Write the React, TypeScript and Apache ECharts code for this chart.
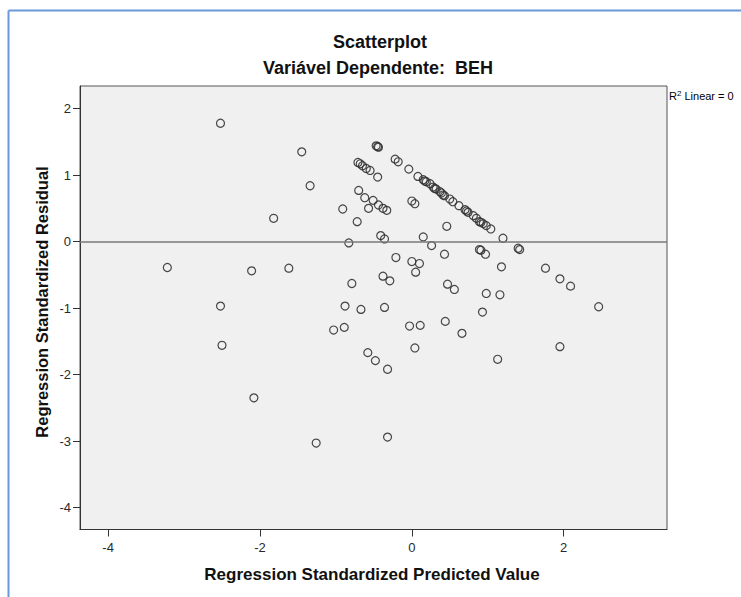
import React, { useEffect, useRef } from "react";
import * as echarts from "echarts";

const predicted: number[] = [
  -2.52, -1.45, -0.47, -0.45, -0.44, -0.71, -0.68, -0.65, -0.6, -0.55,
  -0.45, -1.34, -0.7, -0.62, -0.51, -0.44, -0.38, -0.33, -0.57, -0.91,
  -0.72, -1.82, -0.41, -0.36, -0.83, -0.21, -0.22, -0.18, -0.04, 0.08,
  0.15, 0.17, 0.19, 0.24, 0.28, 0.3, 0.32, 0.37, 0.39, 0.41,
  0.43, 0.5, 0.54, 0.62, 0.7, 0.72, 0.74, 0.81, 0.85, 0.89,
  0.91, 0.94, 0.98, 1.04, 1.2, 1.4, 1.42, 0.0, 0.04, 0.46,
  0.15, 0.26, 0.43, 0.89, 0.91, 0.97, 0.0, 0.1, 0.05, -0.38,
  -0.29, 1.18, 1.76, 1.95, 2.09, 0.47, 0.56, 0.98, 1.16, -0.36,
  2.46, 0.93, -0.03, 0.11, 0.44, 0.66, 0.04, 1.95, 1.13, -0.32,
  -0.32, -3.22, -2.11, -1.62, -0.79, -2.52, -0.88, -0.67, -1.03, -0.89,
  -2.5, -0.58, -0.48, -2.08, -1.26,
];

const residual: number[] = [
  1.78, 1.35, 1.44, 1.43, 1.42, 1.19, 1.17, 1.14, 1.1, 1.07,
  0.97, 0.84, 0.77, 0.66, 0.62, 0.55, 0.5, 0.47, 0.5, 0.49,
  0.3, 0.35, 0.09, 0.04, -0.02, -0.24, 1.24, 1.2, 1.09, 0.98,
  0.93, 0.91, 0.9, 0.87, 0.82, 0.8, 0.79, 0.75, 0.73, 0.7,
  0.69, 0.64, 0.6, 0.54, 0.48, 0.46, 0.44, 0.39, 0.35, 0.3,
  0.29, 0.27, 0.24, 0.19, 0.05, -0.1, -0.12, 0.61, 0.57, 0.23,
  0.07, -0.06, -0.19, -0.12, -0.13, -0.19, -0.3, -0.33, -0.46, -0.52,
  -0.59, -0.38, -0.4, -0.56, -0.67, -0.64, -0.72, -0.78, -0.8, -0.99,
  -0.98, -1.06, -1.27, -1.26, -1.2, -1.38, -1.6, -1.58, -1.77, -1.92,
  -2.94, -0.39, -0.44, -0.4, -0.63, -0.97, -0.97, -1.02, -1.33, -1.29,
  -1.56, -1.67, -1.79, -2.35, -3.03,
];

const xTicks: number[] = [-4, -2, 0, 2];
const yTicks: number[] = [-4, -3, -2, -1, 0, 1, 2];

const titleText = "Scatterplot";
const subtitleText = "Variável Dependente:  BEH";
const xAxisTitle = "Regression Standardized Predicted Value";
const yAxisTitle = "Regression Standardized Residual";
const r2Text = " Linear = 0";

const FONT = "'Liberation Sans', Arial, sans-serif";

export default function App() {
  const ref = useRef<HTMLDivElement>(null);

  useEffect(() => {
    if (!ref.current) return;
    const chart = echarts.init(ref.current, null, { renderer: "svg" });
    const points = predicted.map((p, i) => [p, residual[i]]);

    chart.setOption({
      animation: false,
      backgroundColor: "#ffffff",
      textStyle: { fontFamily: FONT },
      grid: {
        left: 80,
        right: 74,
        top: 86,
        bottom: 67.5,
        show: true,
        backgroundColor: "#f0f0f0",
        borderColor: "#555555",
        borderWidth: 1,
      },
      xAxis: {
        type: "value",
        min: -4.37,
        max: 3.36,
        splitLine: { show: false },
        axisLine: { show: true, onZero: false, lineStyle: { color: "#333333", width: 1 } },
        axisTick: {
          show: true,
          length: 7,
          customValues: xTicks,
          lineStyle: { color: "#333333" },
        },
        axisLabel: {
          customValues: xTicks,
          color: "#2a2a2a",
          fontSize: 13,
          margin: 11,
          fontFamily: FONT,
        },
      },
      yAxis: {
        type: "value",
        min: -4.33,
        max: 2.34,
        splitLine: { show: false },
        axisLine: { show: true, onZero: false, lineStyle: { color: "#333333", width: 1 } },
        axisTick: {
          show: true,
          length: 7,
          customValues: yTicks,
          lineStyle: { color: "#333333" },
        },
        axisLabel: {
          customValues: yTicks,
          color: "#2a2a2a",
          fontSize: 13,
          margin: 9,
          fontFamily: FONT,
        },
      },
      series: [
        {
          type: "scatter",
          data: points,
          symbol: "circle",
          symbolSize: 8,
          itemStyle: {
            color: "rgba(0,0,0,0)",
            borderColor: "#333333",
            borderWidth: 1.2,
            opacity: 0.9,
          },
          markLine: {
            silent: true,
            symbol: ["none", "none"],
            label: { show: false },
            lineStyle: { color: "#7a7a7a", width: 1.5, type: "solid" },
            data: [{ yAxis: 0 }],
          },
        },
      ],
      graphic: [
        {
          type: "line",
          shape: { x1: 8.5, y1: 10.5, x2: 741, y2: 10.5 },
          style: { stroke: "#6a99d9", lineWidth: 2 },
        },
        {
          type: "line",
          shape: { x1: 8.5, y1: 10.5, x2: 8.5, y2: 597 },
          style: { stroke: "#6a99d9", lineWidth: 2 },
        },
        {
          type: "text",
          x: 380,
          y: 42,
          style: {
            text: titleText,
            fontFamily: FONT,
            fontSize: 18,
            fontWeight: "bold",
            fill: "#111111",
            textAlign: "center",
            textVerticalAlign: "middle",
          },
        },
        {
          type: "text",
          x: 378,
          y: 68,
          style: {
            text: subtitleText,
            fontFamily: FONT,
            fontSize: 18,
            fontWeight: "bold",
            fill: "#111111",
            textAlign: "center",
            textVerticalAlign: "middle",
          },
        },
        {
          type: "text",
          x: 372,
          y: 574,
          style: {
            text: xAxisTitle,
            fontFamily: FONT,
            fontSize: 17,
            fontWeight: "bold",
            fill: "#111111",
            textAlign: "center",
            textVerticalAlign: "middle",
          },
        },
        {
          type: "text",
          x: 42,
          y: 302,
          rotation: Math.PI / 2,
          style: {
            text: yAxisTitle,
            fontFamily: FONT,
            fontSize: 16.5,
            fontWeight: "bold",
            fill: "#111111",
            textAlign: "center",
            textVerticalAlign: "middle",
          },
        },
        {
          type: "text",
          x: 669,
          y: 96,
          style: {
            text: "{r|R}{s|2}{r|" + r2Text + "}",
            rich: {
              r: { fontFamily: FONT, fontSize: 11, fill: "#000000", color: "#000000" },
              s: {
                fontFamily: FONT,
                fontSize: 8,
                fill: "#000000",
                color: "#000000",
                verticalAlign: "top",
                padding: [0, 0, 6, 0],
              },
            },
            textAlign: "left",
            textVerticalAlign: "middle",
          },
        },
      ],
    });

    return () => {
      chart.dispose();
    };
  }, []);

  return (
    <div
      style={{
        position: "fixed",
        left: 0,
        top: 0,
        width: 741,
        height: 597,
        background: "#ffffff",
      }}
    >
      <div ref={ref} style={{ width: 741, height: 597 }} />
    </div>
  );
}
